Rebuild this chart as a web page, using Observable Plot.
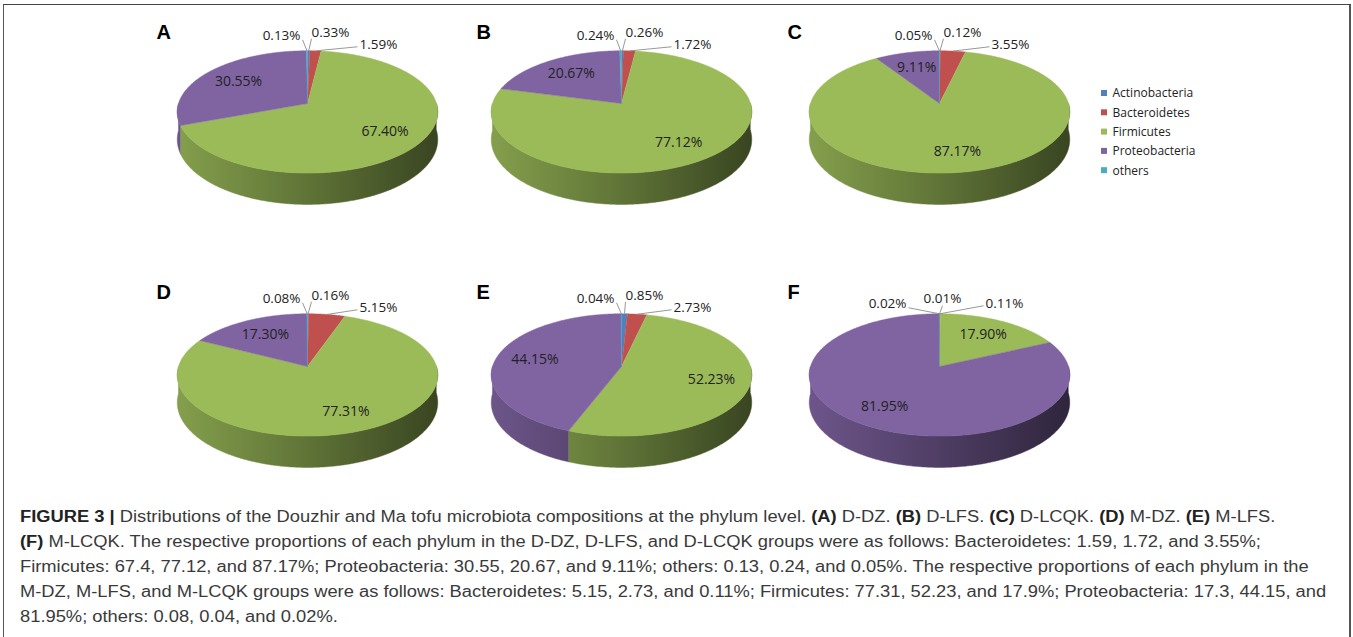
<!DOCTYPE html>
<html>
<head>
<meta charset="utf-8">
<script src="https://cdn.jsdelivr.net/npm/d3@7"></script>
<script src="https://cdn.jsdelivr.net/npm/@observablehq/plot@0.6"></script>
<style>
  html, body { margin: 0; padding: 0; background: #fff; }
  #page { position: relative; width: 1353px; height: 637px; overflow: hidden; background: #fff; }
  #frame { position: absolute; left: 3px; top: 4px; width: 1345px; height: 700px;
           border-left: 1px solid #555; border-top: 1px solid #444; border-right: 2px solid #555; }
  #chart { position: absolute; left: 0; top: 0; }
  #caption { position: absolute; left: 20px; top: 504px; font-family: "Liberation Sans", Arial, sans-serif;
             font-size: 16px; line-height: 25px; color: #3a3a3a; white-space: nowrap;
             transform: scaleX(1.145); transform-origin: 0 0; }
  #caption b { color: #222; }
</style>
</head>
<body>
<div id="page">
  <div id="frame"></div>
  <div id="chart"></div>
  <div id="caption">
    <b>FIGURE 3 |</b> Distributions of the Douzhir and Ma tofu microbiota compositions at the phylum level. <b>(A)</b> D-DZ. <b>(B)</b> D-LFS. <b>(C)</b> D-LCQK. <b>(D)</b> M-DZ. <b>(E)</b> M-LFS.<br>
    <b>(F)</b> M-LCQK. The respective proportions of each phylum in the D-DZ, D-LFS, and D-LCQK groups were as follows: Bacteroidetes: 1.59, 1.72, and 3.55%;<br>
    Firmicutes: 67.4, 77.12, and 87.17%; Proteobacteria: 30.55, 20.67, and 9.11%; others: 0.13, 0.24, and 0.05%. The respective proportions of each phylum in the<br>
    M-DZ, M-LFS, and M-LCQK groups were as follows: Bacteroidetes: 5.15, 2.73, and 0.11%; Firmicutes: 77.31, 52.23, and 17.9%; Proteobacteria: 17.3, 44.15, and<br>
    81.95%; others: 0.08, 0.04, and 0.02%.
  </div>
</div>
<script>
// Phyla, in slice order (clockwise from 12 o'clock), and their colours
const phyla = ["Actinobacteria", "Bacteroidetes", "Firmicutes", "Proteobacteria", "others"];
const phylumColors = ["#4F81BD", "#C0504D", "#9BBB59", "#8064A2", "#4BACC6"];

// Panels A-F: D-DZ, D-LFS, D-LCQK, M-DZ, M-LFS, M-LCQK
const panelLetters = ["A", "B", "C", "D", "E", "F"];
const groups = ["D-DZ", "D-LFS", "D-LCQK", "M-DZ", "M-LFS", "M-LCQK"];

// Relative abundance (%) per panel
const actinobacteria = [0.33, 0.26, 0.12, 0.16, 0.85, 0.01];
const bacteroidetes  = [1.59, 1.72, 3.55, 5.15, 2.73, 0.11];
const firmicutes     = [67.40, 77.12, 87.17, 77.31, 52.23, 17.90];
const proteobacteria = [30.55, 20.67, 9.11, 17.30, 44.15, 81.95];
const others         = [0.13, 0.24, 0.05, 0.08, 0.04, 0.02];

const series = [actinobacteria, bacteroidetes, firmicutes, proteobacteria, others];

// ---- layout of the 3-D pies ----
const W = 1353, H = 480;
const RX = 129, RY = 60, K = 0.138, DEPTH = 27;   // radii, perspective, wall height
const colX = [307, 621, 939], rowY = [103, 366];
const letterX = [156, 476, 787], letterY = [32.5, 292];
const center = p => ({cx: colX[p % 3], cy: rowY[Math.floor(p / 3)]});

// fraction f of a turn (clockwise from the back) -> screen point, with a little perspective
function proj(p, f, r = 1, dz = 0) {
  const {cx, cy} = center(p);
  const a = 2 * Math.PI * f, u = Math.sin(a), v = -Math.cos(a);
  const s = 1 / (1 - K * v);
  return [cx + RX * r * u * s, cy + (RY * r * v + dz) * s];
}
function arc(p, a, b, r = 1, dz = 0) {
  const n = Math.max(2, Math.ceil((b - a) * 720));
  return d3.range(n + 1).map(k => proj(p, a + (b - a) * k / n, r, dz));
}

// slices
const slices = [];
panelLetters.forEach((letter, p) => {
  const vals = series.map(s => s[p]);
  const total = d3.sum(vals);
  let acc = 0;
  vals.forEach((v, i) => {
    const f0 = acc / total; acc += v;
    slices.push({panel: p, phylum: i, value: v, f0, f1: acc / total});
  });
});

// polygons for the top faces and the front walls
const topRows = [], sideRows = [];
slices.forEach(d => {
  const id = `${d.panel}-${d.phylum}`;
  const {cx, cy} = center(d.panel);
  const top = [[cx, cy], ...arc(d.panel, d.f0, d.f1)];
  top.forEach(([x, y]) => topRows.push({id, x, y, color: phylumColors[d.phylum]}));
  const a = Math.max(d.f0, 0.25), b = Math.min(d.f1, 0.75);
  if (a < b) {
    const wall = [...arc(d.panel, a, b), ...arc(d.panel, a, b, 1, DEPTH).reverse()];
    wall.forEach(([x, y]) => sideRows.push({id, x, y, color: `url(#wall-${id})`}));
  }
});

// value labels: inside for large slices, callouts with leader lines for small ones
const insideLabels = [], callouts = [], leaders = [];
slices.forEach(d => {
  const p = d.panel, {cx, cy} = center(p);
  const ty = cy - RY / (1 + K);
  const fm = (d.f0 + d.f1) / 2;
  const text = d.value.toFixed(2) + "%";
  if (d.value >= 6) {
    const [x, y] = proj(p, fm, 0.7);
    insideLabels.push({x, y, text});
    return;
  }
  const small = series[0][p] + series[1][p] + series[4][p];
  const fan = small < 1;
  let anchor, x, y, ax, ay;
  if (d.phylum === 4) {
    anchor = "end"; x = cx - (fan ? 33 : 7); y = ty - (fan ? 10 : 15); ax = x + 2; ay = y + 4;
  } else if (d.phylum === 0) {
    anchor = fan ? "middle" : "start"; x = cx + (fan ? 3 : 4); y = ty - (fan ? 15 : 18);
    ax = x; ay = y + (fan ? 7 : 6);
  } else {
    anchor = "start"; x = cx + (fan ? 46 : 52); y = ty - (fan ? 10 : 6); ax = x - 2; ay = y + 2;
  }
  callouts.push({x, y, text, anchor});
  const [px, py] = proj(p, fm);
  leaders.push({x1: px, y1: py, x2: ax, y2: ay});
});

// horizontal shading of the walls: lit on the left, dark on the right
const scale = (c, k) => { const o = d3.rgb(c); return d3.rgb(o.r * k, o.g * k, o.b * k).formatHex(); };
const wallDefs = () => {
  const defs = d3.create("svg:defs");
  panelLetters.forEach((_, p) => {
    const {cx} = center(p);
    phylumColors.forEach((c, i) => {
      const g = defs.append("linearGradient")
        .attr("id", `wall-${p}-${i}`).attr("gradientUnits", "userSpaceOnUse")
        .attr("x1", cx - RX * 1.01).attr("x2", cx + RX * 1.01).attr("y1", 0).attr("y2", 0);
      [[0, 0.85], [0.45, 0.64], [1, 0.37]].forEach(([o, k]) =>
        g.append("stop").attr("offset", o).attr("stop-color", scale(c, k)));
    });
  });
  return defs.node();
};

const labelFont = {fontFamily: "'Open Sans', sans-serif", fontSize: 14, fill: "#222"};

const chart = Plot.plot({
  width: W, height: H,
  margin: 0,
  x: {type: "linear", domain: [0, W], range: [0, W], axis: null},
  y: {type: "linear", domain: [0, H], range: [0, H], axis: null},
  color: {type: "identity"},
  style: {background: "transparent"},
  marks: [
    wallDefs,
    Plot.line(sideRows, {x: "x", y: "y", z: "id", fill: d => d.color, stroke: d => d.color, strokeWidth: 0.5, curve: "linear"}),
    Plot.line(topRows, {x: "x", y: "y", z: "id", fill: d => d.color, stroke: d => d.color, strokeWidth: 0.5, curve: "linear"}),
    Plot.link(leaders, {x1: "x1", y1: "y1", x2: "x2", y2: "y2", stroke: "#8c8c8c", strokeWidth: 0.9}),
    Plot.text(insideLabels, {x: "x", y: "y", text: "text", textAnchor: "middle", ...labelFont}),
    ...["start", "middle", "end"].map(a =>
      Plot.text(callouts.filter(d => d.anchor === a), {x: "x", y: "y", text: "text", textAnchor: a, ...labelFont, fontSize: 13.5})),
    // panel letters
    Plot.text(panelLetters, {
      x: (d, i) => letterX[i % 3], y: (d, i) => letterY[Math.floor(i / 3)], text: d => d,
      textAnchor: "start", fontFamily: "'Liberation Sans', Arial, sans-serif", fontWeight: "bold", fontSize: 20, fill: "#000"
    }),
    // legend
    Plot.rect(phyla, {
      x1: () => 1101, x2: () => 1107,
      y1: (d, i) => 90 + i * 19.3, y2: (d, i) => 96 + i * 19.3,
      fill: (d, i) => phylumColors[i]
    }),
    Plot.text(phyla, {
      x: () => 1112, y: (d, i) => 93 + i * 19.3, text: d => d, textAnchor: "start",
      fontFamily: "'Open Sans', sans-serif", fontSize: 12, fill: "#222"
    })
  ]
});
document.getElementById("chart").appendChild(chart);
</script>
</body>
</html>
